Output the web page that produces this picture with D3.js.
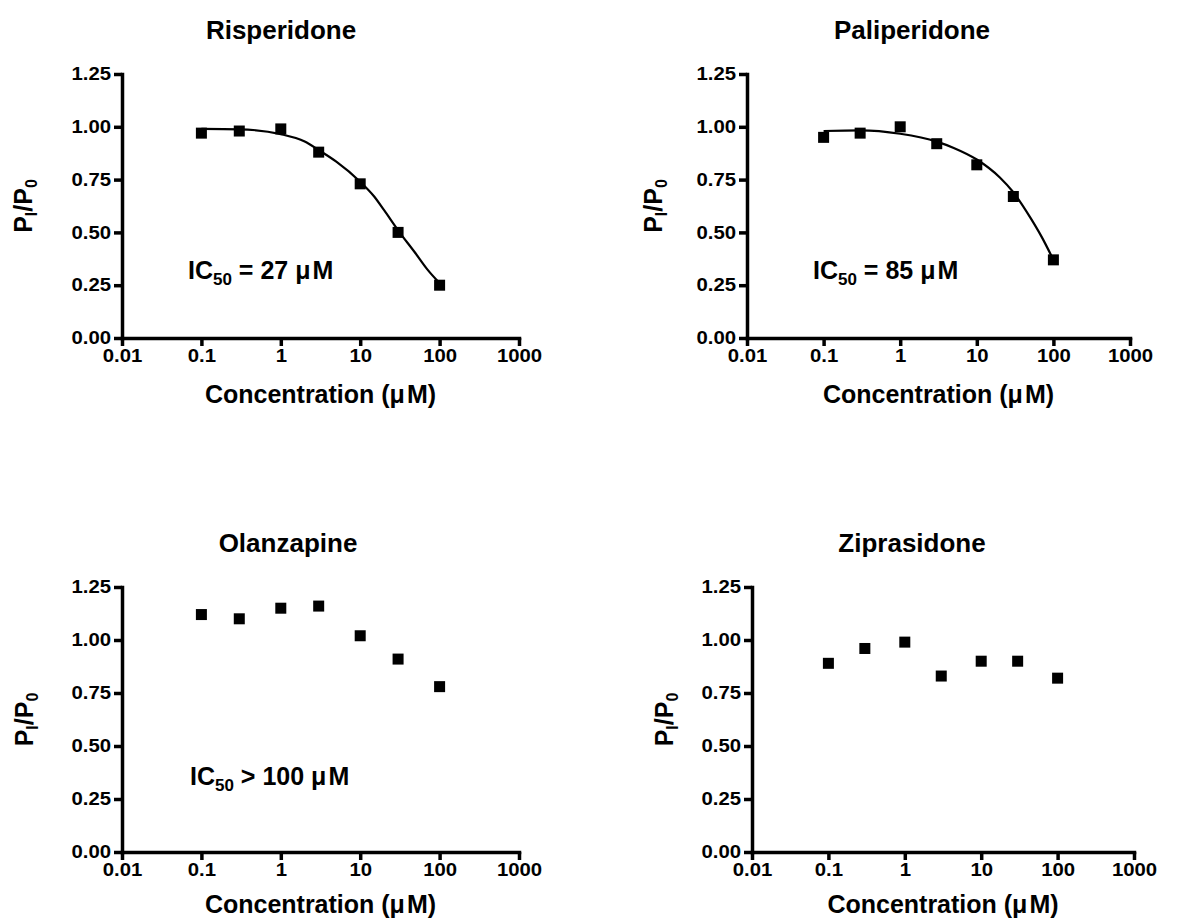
<!DOCTYPE html>
<html>
<head>
<meta charset="utf-8">
<script src="https://cdn.jsdelivr.net/npm/d3@7"></script>
<style>
  body { margin: 0; background: #fff; }
  text { font-family: "Liberation Sans", Arial, sans-serif; font-weight: bold; fill: #000; }
</style>
</head>
<body>
<script>
// concentrations tested (uM), same for every drug
const concentrations = [0.1, 0.3, 1, 3, 10, 30, 100]

// normalised current P_I/P_0
const risperidone = [0.97, 0.98, 0.99, 0.88, 0.73, 0.50, 0.25]
const paliperidone = [0.95, 0.97, 1.00, 0.92, 0.82, 0.67, 0.37]
const olanzapine = [1.12, 1.10, 1.15, 1.16, 1.02, 0.91, 0.78]
const ziprasidone = [0.89, 0.96, 0.99, 0.83, 0.90, 0.90, 0.82]

// fitted curves
const risperidoneFitX = [0.1, 0.3, 1, 2, 3, 5, 10, 15, 20, 30, 50, 70, 100]
const risperidoneFitY = [0.99, 0.988, 0.965, 0.93, 0.89, 0.835, 0.74, 0.67, 0.605, 0.51, 0.40, 0.325, 0.26]
const paliperidoneFitX = [0.1, 0.3, 1, 3, 5, 10, 20, 30, 50, 70, 100]
const paliperidoneFitY = [0.98, 0.983, 0.967, 0.93, 0.90, 0.845, 0.76, 0.69, 0.57, 0.48, 0.37]

const xTicks = [0.01, 0.1, 1, 10, 100, 1000]
const yTicks = [0, 0.25, 0.5, 0.75, 1.0, 1.25]

const TickFont = 18
const TickStretch = 1.13
const LabelFont = 25
const TitleFont = 26
const MarkerSize = 11

const panels = [
    {title: "Risperidone", vals: risperidone, fitX: risperidoneFitX, fitY: risperidoneFitY, ic: "= 27 \u03bc\u200aM",
        x0: 122, x1: 519, yTop: 74, yBot: 338, titleX: 281, ylabX: 32, icX: 188, icY: 279, xlabY: 403},
    {title: "Paliperidone", vals: paliperidone, fitX: paliperidoneFitX, fitY: paliperidoneFitY, ic: "= 85 \u03bc\u200aM",
        x0: 747, x1: 1130, yTop: 74, yBot: 338, titleX: 912, ylabX: 662, icX: 813, icY: 279, xlabY: 403},
    {title: "Olanzapine", vals: olanzapine, ic: "> 100 \u03bc\u200aM",
        x0: 122, x1: 519, yTop: 587, yBot: 852, titleX: 288, ylabX: 33, icX: 190, icY: 785, xlabY: 913},
    {title: "Ziprasidone", vals: ziprasidone,
        x0: 752, x1: 1134, yTop: 587, yBot: 852, titleX: 912, ylabX: 673, xlabY: 913}
]

const svg = d3.select("body").append("svg")
    .attr("width", 1180)
    .attr("height", 918)

function styleAxis(ax) {
    ax.select(".domain").attr("stroke", "#000").attr("stroke-width", 3.5).attr("stroke-linecap", "square")
    ax.selectAll(".tick line").attr("stroke", "#000").attr("stroke-width", 3.5)
    ax.selectAll(".tick text")
        .attr("font-size", TickFont)
        .attr("font-family", null)
        .attr("fill", "#000")
}

function drawPanel(p) {
    const g = svg.append("g")
    const x = d3.scaleLog().domain([0.01, 1000]).range([p.x0, p.x1])
    const y = d3.scaleLinear().domain([0, 1.25]).range([p.yBot, p.yTop])

    const yAxis = g.append("g")
        .attr("transform", "translate(" + p.x0 + ",0)")
        .call(d3.axisLeft(y).tickValues(yTicks).tickFormat(d3.format(".2f")).tickSize(8).tickSizeOuter(0).tickPadding(3))
    const xAxis = g.append("g")
        .attr("transform", "translate(0," + p.yBot + ")")
        .call(d3.axisBottom(x).tickValues(xTicks).tickFormat(d => String(d)).tickSize(8).tickSizeOuter(0).tickPadding(3))
    styleAxis(xAxis)
    styleAxis(yAxis)

    // the original labels are a little wider than Arial
    yAxis.selectAll(".tick text")
        .attr("x", -11 / TickStretch)
        .attr("transform", "scale(" + TickStretch + ",1)")
    xAxis.selectAll(".tick text")
        .attr("transform", "scale(" + TickStretch + ",1)")

    // fitted curve
    if (p.fitX) {
        const pts = p.fitX.map((c, i) => [c, p.fitY[i]])
        g.append("path")
            .datum(pts)
            .attr("fill", "none")
            .attr("stroke", "#000")
            .attr("stroke-width", 2.2)
            .attr("d", d3.line().x(d => x(d[0])).y(d => y(d[1])).curve(d3.curveMonotoneX))
    }

    g.selectAll("rect.pt")
        .data(concentrations.map((c, i) => [c, p.vals[i]]))
        .join("rect")
            .attr("class", "pt")
            .attr("x", d => x(d[0]) - MarkerSize / 2)
            .attr("y", d => y(d[1]) - MarkerSize / 2)
            .attr("width", MarkerSize)
            .attr("height", MarkerSize)
            .attr("fill", "#000")

    // title
    g.append("text")
        .attr("x", p.titleX)
        .attr("y", p.yTop - 35)
        .attr("text-anchor", "middle")
        .attr("font-size", TitleFont)
        .text(p.title)

    // x label
    g.append("text")
        .attr("x", (p.x0 + p.x1) / 2)
        .attr("y", p.xlabY)
        .attr("text-anchor", "middle")
        .attr("font-size", LabelFont)
        .text("Concentration (\u03bc\u200aM)")

    // y label P_I/P_0
    const yl = g.append("text")
        .attr("transform", "translate(" + p.ylabX + "," + (p.yTop + p.yBot) / 2 + ") rotate(-90)")
        .attr("text-anchor", "middle")
        .attr("font-size", LabelFont)
    yl.append("tspan").text("P")
    yl.append("tspan").attr("dy", 5).attr("font-size", 16).text("I")
    yl.append("tspan").attr("dy", -5).text("/P")
    yl.append("tspan").attr("dy", 5).attr("font-size", 16).text("0")

    if (p.ic) {
        const t = g.append("text")
            .attr("x", p.icX)
            .attr("y", p.icY)
            .attr("font-size", LabelFont)
        t.append("tspan").text("IC")
        t.append("tspan").attr("dy", 6).attr("font-size", 17).text("50")
        t.append("tspan").attr("dy", -6).text(" " + p.ic)
    }
}

panels.forEach(drawPanel)
</script>
</body>
</html>
